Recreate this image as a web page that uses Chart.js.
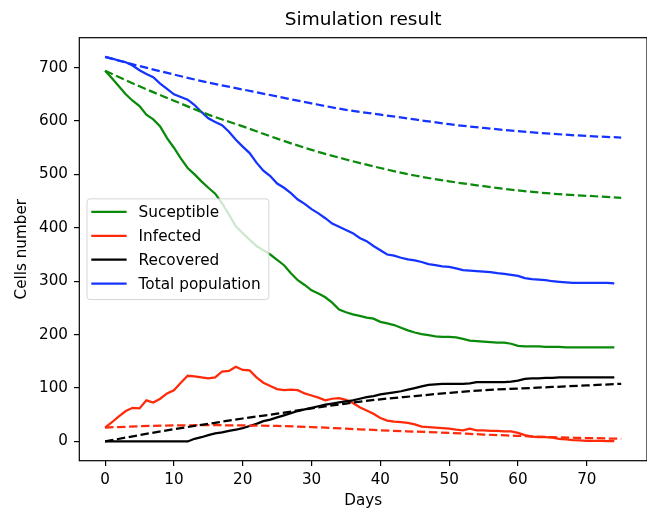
<!DOCTYPE html>
<html>
<head>
<meta charset="utf-8">
<script src="https://cdn.jsdelivr.net/npm/chart.js@4.4.1/dist/chart.umd.min.js"></script>
<style>
  html, body { margin: 0; padding: 0; background: #fff; overflow: hidden; }
  #wrap { width: 647px; height: 510px; }
</style>
</head>
<body>
<div id="wrap"><canvas id="c" width="647" height="510"></canvas></div>
<script>
// ---- data ----
const days = [0,1,2,3,4,5,6,7,8,9,10,11,12,13,14,15,16,17,18,19,20,21,22,23,24,25,26,27,28,29,30,31,32,33,34,35,36,37,38,39,40,41,42,43,44,45,46,47,48,49,50,51,52,53,54,55,56,57,58,59,60,61,62,63,64,65,66,67,68,69,70,71,72,73,74];
const susceptible = [694,680,665,650,638,628,612,603,590,568,550,530,512,500,487,475,464,446,425,403,390,378,366,358,350,340,330,315,302,293,283,277,270,260,247,242,238,235,232,230,224,221,218,213,208,204,201,199,197,196,196,195,192,189,188,187,186,185,185,183,179,178,178,178,177,177,177,176,176,176,176,176,176,176,176];
const infected = [26,36,47,57,63,62,77,73,80,90,96,110,123,122,120,118,120,131,132,140,134,133,120,110,104,98,96,97,96,90,86,82,77,80,81,78,72,64,58,52,44,39,37,36,35,32,28,27,26,25,24,22,21,24,21,21,20,20,19,19,16,12,9,8,8,7,5,4,2.5,2,1,1,1,0.5,0.5];
const recovered = [0,0,0,0,0,0,0,0,0,0,0,0,0,5,8,12,15,17,20,22,25,29,33,38,41,45,49,53,57,60,63,66,69,71,73,75,77,80,83,85,88,90,92,94,97,100,103,106,107,108,108,108,108,109,111,111,111,111,111,112,114,117,118,118,119,119,120,120,120,120,120,120,120,120,120];
const totalPop = [720,717,713,710,704,695,688,682,670,660,650,645,640,630,617,605,598,592,580,565,552,540,522,507,497,483,475,465,453,445,435,427,418,408,402,396,390,381,375,366,358,350,348,344,341,339,336,332,330,328,327,324,321,320,319,318,317,315,314,312,310,306,304,303,302,300,299,298,297,297,297,297,297,297,296];

const modelDays = [0,5,10,15,20,25,30,35,40,45,50,55,60,65,70,75];
const modelS = [694,665,638,612,590,567,546,528,512,498,487,478,470,464,460,456];
const modelI = [26,28.5,30,30.5,30,29,27,24,21,18.5,16,13,10.5,8,6.5,5];
const modelR = [0,12,23,33,43,52,62,71,79,85,91,96,99,102,105,108];
const modelTotal = [720,703,687,672,659,646,633,621,612,603,594,587,581,576,572,569];

const seriesLabels = ['Suceptible','Infected','Recovered','Total population'];
const xTicks = [0,10,20,30,40,50,60,70];
const yTicks = [0,100,200,300,400,500,600,700];

// ---- styling ----
const FONT = 'DejaVu Sans';
const colors = ['#0a8a0a', '#ff2a0a', '#000000', '#1433ff'];
const LW = 2.25;
const DASH = [8.4, 3.6];

Chart.defaults.font.family = FONT;
Chart.defaults.color = '#000';

function pts(xs, ys) { return xs.map((x, i) => ({ x: x, y: ys[i] })); }

const solidSeries = [susceptible, infected, recovered, totalPop];
const modelSeries = [modelS, modelI, modelR, modelTotal];

const datasets = [];
solidSeries.forEach((ys, i) => {
  datasets.push({
    label: seriesLabels[i],
    data: pts(days, ys),
    borderColor: colors[i],
    backgroundColor: colors[i],
    borderWidth: LW,
    pointRadius: 0,
    tension: 0,
    fill: false,
    order: 10 - i
  });
});
modelSeries.forEach((ys, i) => {
  datasets.push({
    label: '',
    data: pts(modelDays, ys),
    borderColor: colors[i],
    borderWidth: LW,
    borderDash: DASH,
    pointRadius: 0,
    cubicInterpolationMode: 'monotone',
    fill: false,
    order: 5 - i
  });
});

const mplPlugin = {
  id: 'mplDecor',
  afterDatasetsDraw(chart) {
    const ctx = chart.ctx, a = chart.chartArea;
    // spines
    ctx.save();
    ctx.strokeStyle = '#000';
    ctx.lineWidth = 1.2;
    ctx.strokeRect(a.left, a.top, a.right - a.left, a.bottom - a.top);
    ctx.restore();

    // legend (center left, matplotlib style)
    const items = chart.data.datasets.filter(d => d.label);
    const fs = 15.3;
    ctx.save();
    ctx.font = fs + 'px "' + FONT + '"';
    let maxW = 0;
    items.forEach(d => { maxW = Math.max(maxW, ctx.measureText(d.label).width); });
    const bx = a.left + 7.7;
    const textOff = 51.6;
    const bw = textOff + maxW + 8.3;
    const bh = 100.7;
    const by = (a.top + a.bottom) / 2 - bh / 2;
    const r = 3;
    ctx.beginPath();
    ctx.moveTo(bx + r, by);
    ctx.lineTo(bx + bw - r, by);
    ctx.quadraticCurveTo(bx + bw, by, bx + bw, by + r);
    ctx.lineTo(bx + bw, by + bh - r);
    ctx.quadraticCurveTo(bx + bw, by + bh, bx + bw - r, by + bh);
    ctx.lineTo(bx + r, by + bh);
    ctx.quadraticCurveTo(bx, by + bh, bx, by + bh - r);
    ctx.lineTo(bx, by + r);
    ctx.quadraticCurveTo(bx, by, bx + r, by);
    ctx.closePath();
    ctx.fillStyle = 'rgba(255,255,255,0.8)';
    ctx.fill();
    ctx.strokeStyle = 'rgba(204,204,204,0.8)';
    ctx.lineWidth = 1;
    ctx.stroke();

    items.forEach((d, i) => {
      const y = by + 13 + i * 23.9;
      ctx.beginPath();
      ctx.strokeStyle = d.borderColor;
      ctx.lineWidth = LW;
      ctx.moveTo(bx + 4.3, y);
      ctx.lineTo(bx + 39.6, y);
      ctx.stroke();
      ctx.fillStyle = '#000';
      ctx.textBaseline = 'middle';
      ctx.textAlign = 'left';
      ctx.fillText(d.label, bx + textOff, y + 1);
    });
    ctx.restore();
  }
};

new Chart(document.getElementById('c'), {
  type: 'line',
  data: { datasets: datasets },
  plugins: [mplPlugin],
  options: {
    responsive: false,
    devicePixelRatio: 1,
    animation: false,
    layout: { padding: { left: 0, right: 0, top: 0, bottom: 0 } },
    plugins: {
      legend: { display: false },
      tooltip: { enabled: false },
      title: {
        display: true,
        fullSize: false,
        text: 'Simulation result',
        color: '#000',
        font: { family: FONT, size: 18.5, weight: 'normal' },
        padding: { top: 9, bottom: 6.5 }
      }
    },
    scales: {
      x: {
        type: 'linear',
        min: -3.75,
        max: 78.75,
        afterBuildTicks: s => { s.ticks = xTicks.map(v => ({ value: v })); },
        afterFit: s => { s.height = 49.3; },
        border: { display: false },
        grid: { drawOnChartArea: false, drawTicks: true, tickLength: 5.3, color: '#000', lineWidth: 1.2 },
        ticks: { color: '#000', font: { family: FONT, size: 15.2 }, padding: 5, maxRotation: 0, autoSkip: false },
        title: { display: true, text: 'Days', color: '#000', font: { family: FONT, size: 15.2 }, padding: { top: 0, bottom: 0 } }
      },
      y: {
        type: 'linear',
        min: -36,
        max: 756,
        afterBuildTicks: s => { s.ticks = yTicks.map(v => ({ value: v })); },
        afterFit: s => { s.width = 79.3; },
        border: { display: false },
        grid: { drawOnChartArea: false, drawTicks: true, tickLength: 5.3, color: '#000', lineWidth: 1.2 },
        ticks: { color: '#000', font: { family: FONT, size: 15.2 }, padding: 6, autoSkip: false },
        title: { display: true, text: 'Cells number', color: '#000', font: { family: FONT, size: 15.2 }, padding: { top: 13.4, bottom: 0 } }
      }
    }
  }
});
</script>
</body>
</html>
